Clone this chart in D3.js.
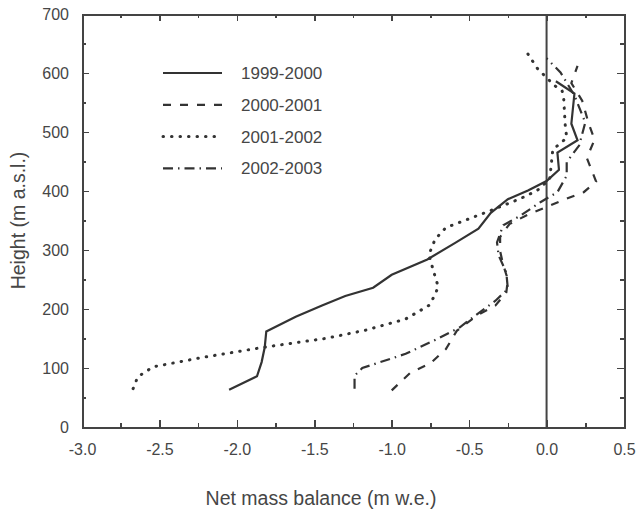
<!DOCTYPE html>
<html>
  <head>
    <meta charset="utf-8">
    <title>Net mass balance profiles</title>
    <script src="https://cdn.jsdelivr.net/npm/d3@7"></script>
    <style>
      body { margin: 0; background: #fff; }
      text { font-family: "Liberation Sans", Arial, sans-serif; fill: #464646; }
      .axis path, .axis line { stroke: #444; shape-rendering: crispEdges; }
      .series { fill: none; stroke: #333; }
    </style>
  </head>
  <body>
    <svg width="637" height="510"></svg>
    <script>
      // series labels (legend)
      const years = ["1999-2000", "2000-2001", "2001-2002", "2002-2003"];

      // net mass balance (m w.e.) and height (m a.s.l.)
      const bal9900 = [-2.05, -1.87, -1.84, -1.82, -1.81, -1.62, -1.45, -1.30, -1.12, -1.00, -0.77, -0.59, -0.44, -0.36, -0.25, -0.12, 0.00, 0.08, 0.07, 0.20, 0.16, 0.18, 0.06];
      const h9900   = [63, 86, 110, 135, 162, 187, 206, 222, 236, 258, 284, 312, 336, 363, 386, 401, 417, 436, 465, 486, 514, 565, 586];

      const bal0001 = [-1.00, -0.88, -0.75, -0.65, -0.58, -0.45, -0.33, -0.26, -0.25, -0.28, -0.30, -0.30, -0.24, -0.12, 0.10, 0.24, 0.32, 0.26, 0.31, 0.27, 0.23, 0.16, 0.20];
      const h0001   = [62, 92, 108, 132, 163, 189, 206, 228, 250, 275, 298, 322, 344, 360, 384, 398, 416, 456, 487, 516, 553, 583, 612];

      const bal0102 = [-2.67, -2.64, -2.54, -2.22, -1.83, -1.43, -1.17, -0.91, -0.76, -0.72, -0.70, -0.73, -0.76, -0.72, -0.65, -0.36, -0.17, -0.06, 0.02, 0.03, 0.04, 0.13, 0.12, 0.11, 0.10, 0.05, -0.06, -0.12];
      const h0102   = [65, 85, 102, 118, 135, 150, 164, 183, 206, 224, 238, 264, 292, 318, 338, 367, 387, 401, 420, 444, 470, 490, 513, 560, 570, 579, 608, 632];

      const bal0203 = [-1.24, -1.24, -1.19, -0.91, -0.70, -0.56, -0.46, -0.33, -0.25, -0.26, -0.31, -0.32, -0.28, -0.17, -0.04, 0.07, 0.13, 0.13, 0.21, 0.25, 0.18, 0.09, 0.00];
      const h0203   = [65, 87, 100, 124, 150, 169, 189, 214, 234, 262, 291, 313, 342, 358, 381, 398, 426, 449, 477, 516, 562, 601, 625];

      const xTicks = [-3.0, -2.5, -2.0, -1.5, -1.0, -0.5, 0.0, 0.5];
      const yTicks = [0, 100, 200, 300, 400, 500, 600, 700];

      // line styles per series
      const styles = [
        { dash: null, width: 2.2, cap: "butt" },
        { dash: "8,9", width: 2.2, cap: "butt" },
        { dash: "0.5,8", width: 3, cap: "round" },
        { dash: "10,5,1.5,5", width: 2.2, cap: "butt" }
      ];

      const series = [
        { name: years[0], bal: bal9900, h: h9900 },
        { name: years[1], bal: bal0001, h: h0001 },
        { name: years[2], bal: bal0102, h: h0102 },
        { name: years[3], bal: bal0203, h: h0203 }
      ];

      const margin = { top: 14, right: 13, bottom: 83, left: 82 };
      const width = 637 - margin.left - margin.right;
      const height = 510 - margin.top - margin.bottom;

      const svg = d3.select("svg")
          .append("g")
          .attr("transform", `translate(${margin.left},${margin.top})`);

      const x = d3.scaleLinear().domain([-3, 0.5]).range([0, width]);
      const y = d3.scaleLinear().domain([0, 700]).range([height, 0]);

      const minorX = d3.range(-2.75, 0.5, 0.5);
      const minorY = d3.range(50, 700, 100);

      // bottom axis with labels, ticks pointing inwards
      svg.append("g")
          .attr("class", "axis")
          .attr("transform", `translate(0,${height})`)
          .call(d3.axisBottom(x).tickValues(xTicks).tickFormat(d => d.toFixed(1)).tickSize(-7).tickPadding(17))
          .call(g => g.selectAll("text").style("font-size", "16px"));
      svg.append("g")
          .attr("class", "axis")
          .attr("transform", `translate(0,${height})`)
          .call(d3.axisBottom(x).tickValues(minorX).tickFormat("").tickSize(-4))
          .call(g => g.select(".domain").remove());

      // top axis, ticks only
      svg.append("g")
          .attr("class", "axis")
          .call(d3.axisTop(x).tickValues(xTicks).tickFormat("").tickSize(-7));
      svg.append("g")
          .attr("class", "axis")
          .call(d3.axisTop(x).tickValues(minorX).tickFormat("").tickSize(-4))
          .call(g => g.select(".domain").remove());

      // left axis with labels
      svg.append("g")
          .attr("class", "axis")
          .call(d3.axisLeft(y).tickValues(yTicks).tickSize(-7).tickPadding(13))
          .call(g => g.selectAll("text").style("font-size", "16px"));
      svg.append("g")
          .attr("class", "axis")
          .call(d3.axisLeft(y).tickValues(minorY).tickFormat("").tickSize(-4))
          .call(g => g.select(".domain").remove());

      // right axis, ticks only
      svg.append("g")
          .attr("class", "axis")
          .attr("transform", `translate(${width},0)`)
          .call(d3.axisRight(y).tickValues(yTicks).tickFormat("").tickSize(-7));
      svg.append("g")
          .attr("class", "axis")
          .attr("transform", `translate(${width},0)`)
          .call(d3.axisRight(y).tickValues(minorY).tickFormat("").tickSize(-4))
          .call(g => g.select(".domain").remove());

      svg.selectAll(".axis path.domain").attr("stroke-width", 2);
      svg.selectAll(".axis .tick line").attr("stroke-width", 1.5);

      // zero line
      svg.append("line")
          .attr("x1", x(0)).attr("x2", x(0))
          .attr("y1", 0).attr("y2", height)
          .attr("stroke", "#444")
          .attr("stroke-width", 2);

      const line = d3.line()
          .x(d => x(d[0]))
          .y(d => y(d[1]));

      series.forEach((s, i) => {
        svg.append("path")
            .datum(d3.zip(s.bal, s.h))
            .attr("class", "series")
            .attr("d", line)
            .attr("stroke-dasharray", styles[i].dash)
            .attr("stroke-linecap", styles[i].cap)
            .attr("stroke-width", styles[i].width);
      });

      // legend
      const legend = svg.append("g").attr("transform", "translate(81,59)");
      series.forEach((s, i) => {
        const row = legend.append("g").attr("transform", `translate(0,${i * 31.8})`);
        row.append("line")
            .attr("x1", 0).attr("x2", 59)
            .attr("class", "series")
            .attr("stroke-dasharray", styles[i].dash)
            .attr("stroke-linecap", styles[i].cap)
            .attr("stroke-width", styles[i].width);
        row.append("text")
            .attr("x", 78).attr("y", 0)
            .attr("dy", "0.35em")
            .style("font-size", "17px")
            .text(s.name);
      });

      // axis titles
      svg.append("text")
          .attr("x", 321 - margin.left)
          .attr("y", 505 - margin.top)
          .attr("text-anchor", "middle")
          .style("font-size", "19.5px")
          .text("Net mass balance (m w.e.)");

      svg.append("text")
          .attr("transform", `translate(${25 - margin.left},${height / 2}) rotate(-90)`)
          .attr("text-anchor", "middle")
          .style("font-size", "19.5px")
          .text("Height (m a.s.l.)");
    </script>
  </body>
</html>
